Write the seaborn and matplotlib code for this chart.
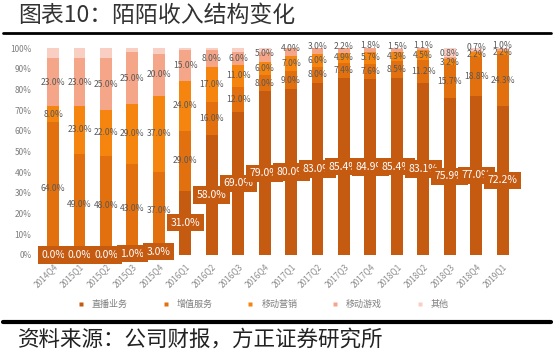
import matplotlib
matplotlib.use("Agg")
import matplotlib.pyplot as plt
from matplotlib.lines import Line2D
import numpy as np
import pandas as pd
import seaborn as sns

sns.set_theme(style="white")
plt.rcParams['font.family'] = ['Noto Sans CJK SC', 'DejaVu Sans']

# data (share of revenue, %)
quarters = ['2014Q4', '2015Q1', '2015Q2', '2015Q3', '2015Q4', '2016Q1', '2016Q2',
            '2016Q3', '2016Q4', '2017Q1', '2017Q2', '2017Q3', '2017Q4', '2018Q1',
            '2018Q2', '2018Q3', '2018Q4', '2019Q1']
live = [0, 0, 0, 1, 3, 31, 58, 69, 79, 80, 83, 85.4, 84.9, 85.4, 83.1, 75.9, 77.0, 72.2]
vas = [64, 49, 48, 43, 37, 29, 16, 12, 8, 9, 8, 7.4, 7.6, 8.5, 11.2, 15.7, 18.8, 24.3]
marketing = [8, 23, 22, 29, 37, 24, 17, 11, 6, 7, 6, 4.9, 5.7, 4.3, 4.5, 3.2, 2.2, 2.2]
games = [23, 23, 25, 25, 20, 15, 8, 6, 5, 4, 3, 2.2, 1.8, 1.5, 1.1, 0.8, 0.7, 1.0]
other = [5, 5, 5, 2, 3, 1, 1, 2, 2, 0, 0, 0.1, 0, 0.3, 0.1, 4.4, 1.3, 0.3]

series_names = ['直播业务', '增值服务', '移动营销', '移动游戏', '其他']
colors = ['#C55A11', '#E2700E', '#F5850F', '#F6A688', '#F9CEC3']

df = pd.DataFrame({'quarter': quarters, '直播业务': live, '增值服务': vas,
                   '移动营销': marketing, '移动游戏': games, '其他': other})
cum = df[series_names].cumsum(axis=1)

fig = plt.figure(figsize=(5.54, 3.53), dpi=100)
ax = fig.add_axes([0.072, 0.278, 0.859, 0.586])

# stacked bars: draw cumulative totals from the top down
for name, col in reversed(list(zip(series_names, colors))):
    sns.barplot(x=df['quarter'], y=cum[name], color=col, saturation=1,
                width=0.45, edgecolor='none', ax=ax)

# labels
grey = '#595959'
for i in range(len(quarters)):
    base = 0
    for j, name in enumerate(series_names):
        v = df[name][i]
        mid = base + v / 2
        if j == 0:
            ax.text(i, mid, f'{v:.1f}%', ha='center', va='center', fontsize=7.5,
                    color='white',
                    bbox=dict(boxstyle='square,pad=0.35', fc='#C55A11', ec='none'))
        elif j < 4:
            y = mid
            if j == 3 and v < 6:
                y = mid + 2  # small game shares sit a bit above the bar top
            ax.text(i, y, f'{v:.1f}%', ha='center', va='center', fontsize=6.2,
                    color=grey)
        base += v

ax.set_ylim(0, 100)
ax.set_xlim(-0.5, len(quarters) - 0.5)
ax.set_yticks(np.arange(0, 101, 10))
ax.set_yticklabels([f'{t}%' for t in range(0, 101, 10)])
ax.set_xlabel('')
ax.set_ylabel('')
ax.tick_params(axis='y', labelsize=6, colors='#7f7f7f', length=0, pad=6)
ax.tick_params(axis='x', labelsize=6, colors='#8c8c8c', length=0, pad=5)
plt.setp(ax.get_xticklabels(), rotation=45, ha='right', rotation_mode='anchor')
sns.despine(ax=ax, left=True, bottom=True)

handles = [Line2D([0], [0], marker='s', linestyle='none', markersize=3.5,
                  markerfacecolor=c, markeredgecolor='none') for c in colors]
fig.legend(handles, series_names, loc='center', bbox_to_anchor=(0.47, 0.137),
           ncol=5, frameon=False, fontsize=6.5, labelcolor='#7f7f7f',
           handletextpad=0.2, columnspacing=3.2)

# title, rules and source
fig.text(0.032, 0.957, '图表10：陌陌收入结构变化', fontsize=16.5, color='#333333',
         va='center', ha='left')
fig.add_artist(Line2D([0.005, 0.995], [0.907, 0.907], transform=fig.transFigure,
                      color='black', lw=2))
fig.add_artist(Line2D([0.005, 0.995], [0.088, 0.088], transform=fig.transFigure,
                      color='black', lw=3))
fig.text(0.032, 0.037, '资料来源：公司财报，方正证券研究所', fontsize=15.5,
         color='#222222', va='center', ha='left', style='italic')

fig.savefig('out.png', dpi=100, facecolor='white')
